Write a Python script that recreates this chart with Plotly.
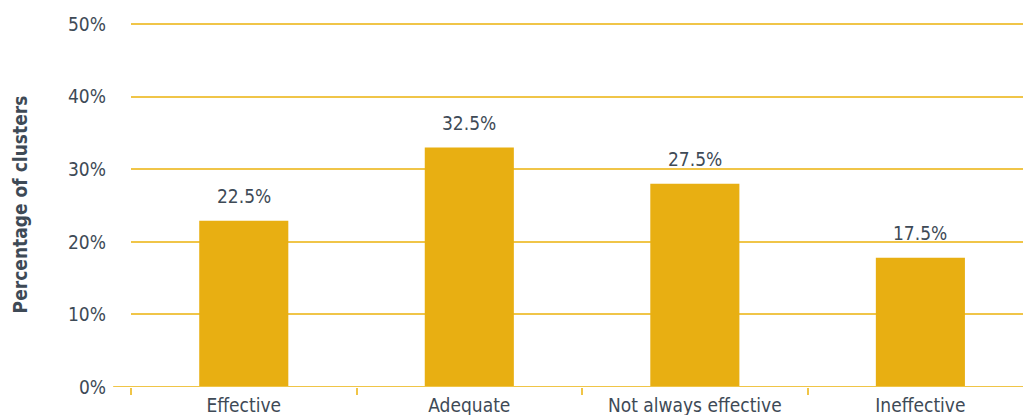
import plotly.graph_objects as go

categories = ["Effective", "Adequate", "Not always effective", "Ineffective"]
values = [22.9, 33.0, 28.0, 17.8]
labels = ["22.5%", "32.5%", "27.5%", "17.5%"]
y_ticks = [0, 10, 20, 30, 40, 50]
y_ticklabels = ["0%", "10%", "20%", "30%", "40%", "50%"]

BAR = "#E8AF12"
GRID = "#F0C548"
TXT = "#3E4A56"
FONT = "DejaVu Sans Condensed, Liberation Sans Narrow, sans-serif"

fig = go.Figure()
fig.add_trace(go.Bar(x=categories, y=values, width=0.395, marker=dict(color=BAR, line=dict(width=0)),
                     hoverinfo="skip"))

for c, v, t in zip(categories, values, labels):
    fig.add_annotation(x=c, y=v, text=t, showarrow=False, yanchor="bottom", yshift=12,
                       font=dict(family=FONT, size=19, color=TXT))

# baseline extending left of the plot
fig.add_shape(type="line", xref="paper", yref="y", x0=-0.02, x1=1, y0=0, y1=0,
              line=dict(color=GRID, width=2), layer="above")

fig.update_layout(
    width=1023, height=415,
    margin=dict(l=131, r=0, t=22, b=28, autoexpand=False),
    plot_bgcolor="white", paper_bgcolor="white",
    showlegend=False,
    font=dict(family=FONT, size=19, color=TXT),
    xaxis=dict(range=[-0.5, 3.455], showgrid=False, showline=False, ticks="outside",
               tickson="boundaries", ticklen=7, tickwidth=1.5, tickcolor=GRID,
               ticklabelstandoff=5, automargin=False,
               tickfont=dict(family=FONT, size=19, color=TXT), fixedrange=True),
    yaxis=dict(range=[0, 50.3], tickvals=y_ticks, ticktext=y_ticklabels, showgrid=True,
               gridcolor=GRID, gridwidth=2, zeroline=False, showline=False, ticks="",
               ticklabelstandoff=24, automargin=False,
               tickfont=dict(family=FONT, size=19, color=TXT),
               title=dict(text="<b>Percentage of clusters</b>", standoff=35,
                          font=dict(family=FONT, size=19, color=TXT)),
               fixedrange=True),
)

fig.write_html("out.html")
